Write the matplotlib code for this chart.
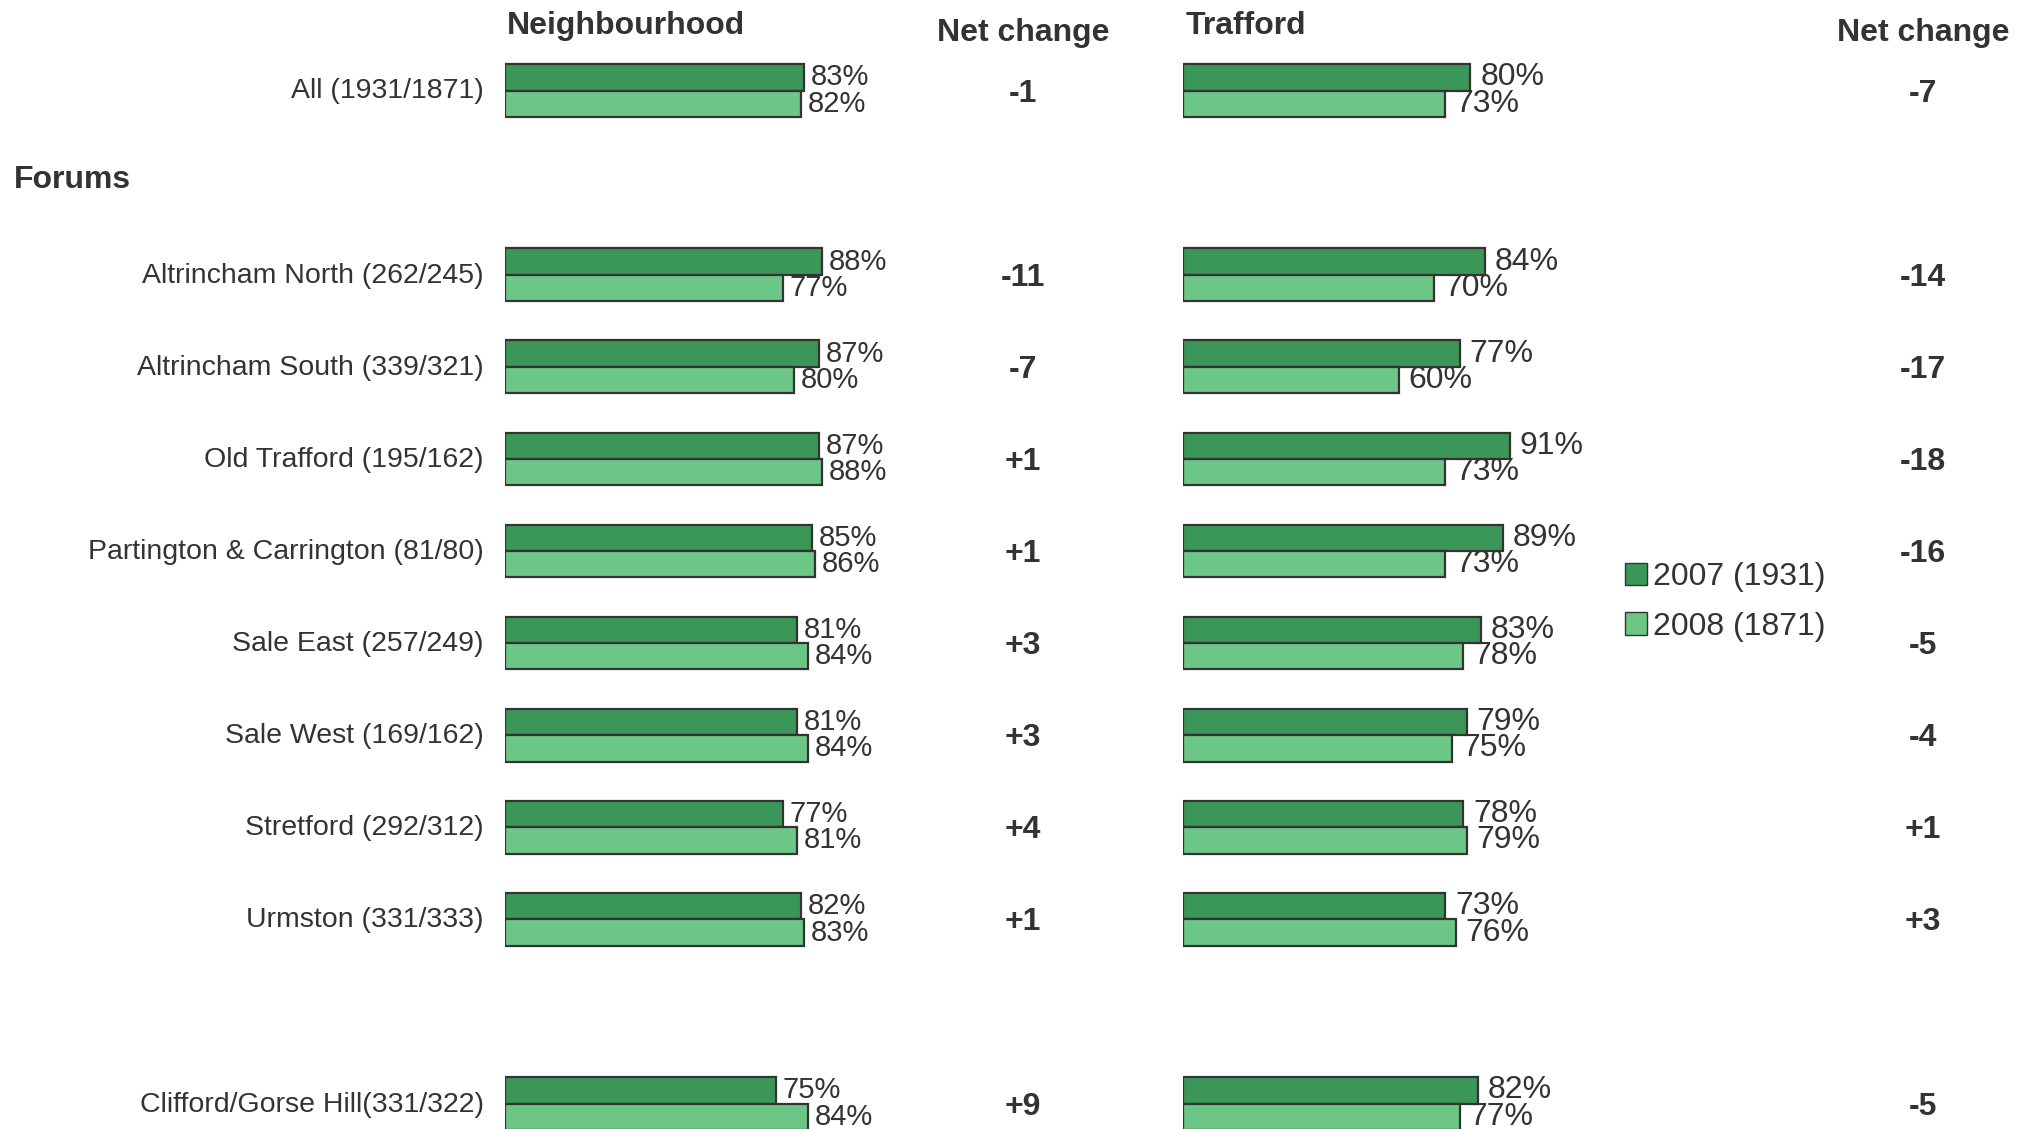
import numpy as np
import matplotlib
matplotlib.use('Agg')
import matplotlib.pyplot as plt
from matplotlib.transforms import blended_transform_factory, ScaledTranslation
from matplotlib.patches import Patch

plt.rcParams['font.family'] = ['Liberation Sans', 'DejaVu Sans']

# Dados
categorias = ["All (1931/1871)", "Altrincham North (262/245)", "Altrincham South (339/321)",
              "Old Trafford (195/162)", "Partington & Carrington (81/80)", "Sale East (257/249)",
              "Sale West (169/162)", "Stretford (292/312)", "Urmston (331/333)",
              "Clifford/Gorse Hill(331/322)"]
linhas = [0, 2, 3, 4, 5, 6, 7, 8, 9, 11]
bairro_2007 = [83, 88, 87, 87, 85, 81, 81, 77, 82, 75]
bairro_2008 = [82, 77, 80, 88, 86, 84, 84, 81, 83, 84]
trafford_2007 = [80, 84, 77, 91, 89, 83, 79, 78, 73, 82]
trafford_2008 = [73, 70, 60, 73, 73, 78, 75, 79, 76, 77]
legenda = ["2007 (1931)", "2008 (1871)"]

escuro = '#3b9757'
claro = '#6cc686'
texto = '#333333'
W, H = 2033, 1129

fig = plt.figure(figsize=(W / 100, H / 100), dpi=100)

# eixo y em unidades de linha: centro de "All" em 90.5 px, passo de 92.1 px
topo = -90.5 / 92.1
fundo = (H - 90.5) / 92.1

ax1 = fig.add_axes([505.5 / W, 0, 360 / W, 1])
ax2 = fig.add_axes([1182.5 / W, 0, 360 / W, 1])

h = 0.286
y = np.array(linhas)

for ax, v07, v08, fs, off in [(ax1, bairro_2007, bairro_2008, 21, 5),
                              (ax2, trafford_2007, trafford_2008, 23, 7)]:
    ax.barh(y - h / 2, v07, height=h, color=escuro, edgecolor='#333333', linewidth=1.6)
    ax.barh(y + h / 2, v08, height=h, color=claro, edgecolor='#333333', linewidth=1.6)
    for yy, a, b in zip(y, v07, v08):
        ax.annotate(f'{a}%', (a, yy - h / 2), xytext=(off, 0), textcoords='offset points',
                    va='center', ha='left', fontsize=fs, color=texto)
        ax.annotate(f'{b}%', (b, yy + h / 2), xytext=(off, 0), textcoords='offset points',
                    va='center', ha='left', fontsize=fs, color=texto)
    ax.set_xlim(0, 100)
    ax.set_ylim(fundo, topo)
    ax.axis('off')

tr = blended_transform_factory(fig.transFigure, ax1.transData)
# valores da variação ficam uns pixels abaixo do centro da linha
tr_baixo = tr + ScaledTranslation(0, -3 / 100, fig.dpi_scale_trans)
tr_cat = tr + ScaledTranslation(0, -1 / 100, fig.dpi_scale_trans)

# rótulos das categorias
for yy, c in zip(y, categorias):
    fig.text(484 / W, yy, c, transform=tr_cat, ha='right', va='center', fontsize=20.5, color=texto)

# variação líquida
for yy, a, b, c, d in zip(y, bairro_2007, bairro_2008, trafford_2007, trafford_2008):
    fig.text(1023 / W, yy, f'{b - a:+d}', transform=tr_baixo, ha='center', va='center',
             fontsize=23, fontweight='bold', color=texto)
    fig.text(1923 / W, yy, f'{d - c:+d}', transform=tr_baixo, ha='center', va='center',
             fontsize=23, fontweight='bold', color=texto)

fig.text(14 / W, 0.97, 'Forums', transform=tr, ha='left', va='center',
         fontsize=23, fontweight='bold', color=texto)

# títulos
fig.text(507 / W, 1 - 26 / H, 'Neighbourhood', ha='left', va='center',
         fontsize=23, fontweight='bold', color=texto)
fig.text(1186 / W, 1 - 26 / H, 'Trafford', ha='left', va='center',
         fontsize=23, fontweight='bold', color=texto)
fig.text(1023 / W, 1 - 33 / H, 'Net change', ha='center', va='center',
         fontsize=23, fontweight='bold', color=texto)
fig.text(1923 / W, 1 - 33 / H, 'Net change', ha='center', va='center',
         fontsize=23, fontweight='bold', color=texto)

# legenda
handles = [Patch(facecolor=escuro, edgecolor='#333333'),
           Patch(facecolor=claro, edgecolor='#333333')]
fig.legend(handles, legenda, loc='center left', bbox_to_anchor=(1596 / W, 1 - 602 / H),
           frameon=False, fontsize=23, handlelength=0.7, handleheight=0.7,
           handletextpad=0.18, labelspacing=0.6, labelcolor=texto)

fig.savefig('out.png', dpi=100)
